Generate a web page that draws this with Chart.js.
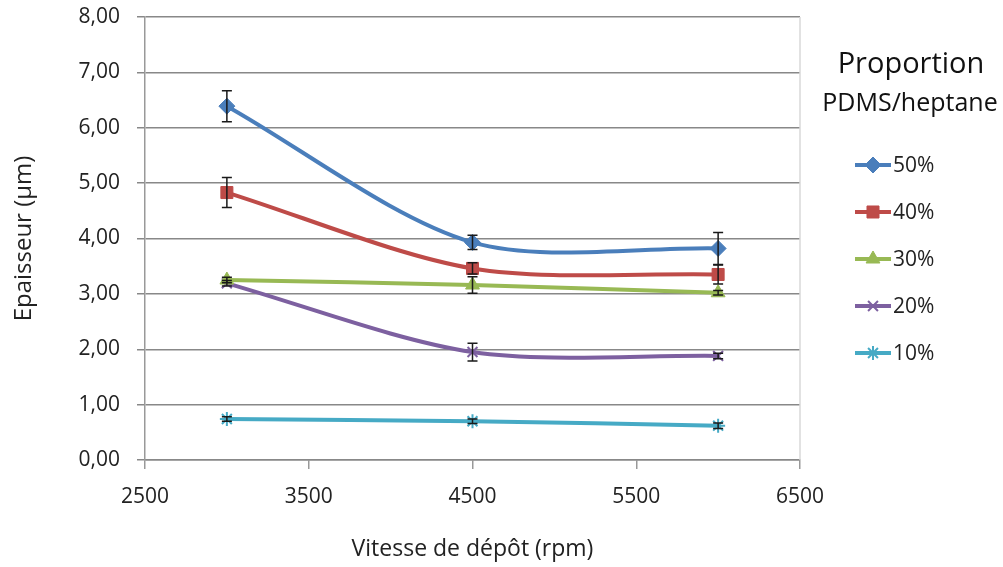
<!DOCTYPE html>
<html>
<head>
<meta charset="utf-8">
<script src="https://cdn.jsdelivr.net/npm/chart.js@4/dist/chart.umd.min.js"></script>
<style>
    html, body { margin: 0; padding: 0; background: #fff; }
    #wrap { width: 1003px; height: 567px; }
</style>
</head>
<body>
<div id="wrap"><canvas id="thickness"></canvas></div>
<script>
const speeds = [3000, 4500, 6000];
const seriesNames = ["50%", "40%", "30%", "20%", "10%"];

const p50 = [6.39, 3.93, 3.82];
const p40 = [4.83, 3.46, 3.35];
const p30 = [3.25, 3.16, 3.02];
const p20 = [3.19, 1.95, 1.88];
const p10 = [0.74, 0.70, 0.62];

const err50 = [0.28, 0.13, 0.29];
const err40 = [0.27, 0.10, 0.17];
const err30 = [0.05, 0.15, 0.04];
const err20 = [0.05, 0.16, 0.05];
const err10 = [0.04, 0.04, 0.05];

const yTicks = [0, 1, 2, 3, 4, 5, 6, 7, 8];
const xTicks = [2500, 3500, 4500, 5500, 6500];

const colors = ["#4a7ebb", "#be4b48", "#98b954", "#7d60a0", "#46aac5"];
const markers = ["rectRot", "rect", "triangle", "crossRot", "star"];
const markerSizes = [8, 8.5, 8, 7, 7];
const values = [p50, p40, p30, p20, p10];
const errors = [err50, err40, err30, err20, err10];

const FONT = "'Open Sans', sans-serif";

function formatFr(v) {
    return v.toFixed(2).replace(".", ",");
}

function isCross(style) {
    return style === "crossRot" || style === "star";
}

// error bars drawn from the data through the scales
const errorBars = {
    id: "errorBars",
    afterDatasetsDraw(chart) {
        const { ctx, scales } = chart;
        ctx.save();
        ctx.strokeStyle = "#1a1a1a";
        ctx.lineWidth = 1.5;
        chart.data.datasets.forEach((ds) => {
            ds.data.forEach((pt, i) => {
                const e = ds.errors[i];
                const x = scales.x.getPixelForValue(pt.x);
                const yTop = scales.y.getPixelForValue(pt.y + e);
                const yBot = scales.y.getPixelForValue(pt.y - e);
                ctx.beginPath();
                ctx.moveTo(x, yTop);
                ctx.lineTo(x, yBot);
                ctx.moveTo(x - 5, yTop);
                ctx.lineTo(x + 5, yTop);
                ctx.moveTo(x - 5, yBot);
                ctx.lineTo(x + 5, yBot);
                ctx.stroke();
            });
        });
        ctx.restore();
    },
};

// light frame line on the right edge of the plot
const rightEdge = {
    id: "rightEdge",
    beforeDatasetsDraw(chart) {
        const { ctx, chartArea } = chart;
        ctx.save();
        ctx.strokeStyle = "#d9d9d9";
        ctx.lineWidth = 1.5;
        ctx.beginPath();
        ctx.moveTo(chartArea.right, chartArea.top);
        ctx.lineTo(chartArea.right, chartArea.bottom);
        ctx.stroke();
        ctx.restore();
    },
};

// legend in the Excel style: title on two lines, line + marker per series
const sideLegend = {
    id: "sideLegend",
    afterDraw(chart) {
        const ctx = chart.ctx;
        ctx.save();
        ctx.fillStyle = "#111";
        ctx.textAlign = "center";
        ctx.textBaseline = "middle";
        ctx.font = "29px " + FONT;
        ctx.fillText("Proportion", 911, 65);
        ctx.font = "25px " + FONT;
        ctx.fillText("PDMS/heptane", 910, 104);

        ctx.textAlign = "left";
        ctx.font = "21px " + FONT;
        chart.data.datasets.forEach((ds, i) => {
            const y = 165 + i * 47;
            ctx.strokeStyle = ds.borderColor;
            ctx.lineWidth = 4;
            ctx.beginPath();
            ctx.moveTo(855, y);
            ctx.lineTo(891, y);
            ctx.stroke();
            ctx.fillStyle = ds.borderColor;
            ctx.strokeStyle = ds.borderColor;
            ctx.lineWidth = ds.pointBorderWidth;
            Chart.helpers.drawPoint(ctx, {
                pointStyle: ds.pointStyle,
                radius: ds.pointRadius,
                borderWidth: ds.pointBorderWidth,
                rotation: 0,
            }, 873, y);
            ctx.fillStyle = "#222";
            ctx.fillText(ds.label, 893, y + 1);
        });
        ctx.restore();
    },
};

const datasets = seriesNames.map((name, i) => ({
    label: name,
    data: speeds.map((s, j) => ({ x: s, y: values[i][j] })),
    errors: errors[i],
    borderColor: colors[i],
    backgroundColor: colors[i],
    pointBackgroundColor: colors[i],
    pointBorderColor: colors[i],
    pointStyle: markers[i],
    pointRadius: markerSizes[i],
    pointBorderWidth: isCross(markers[i]) ? 2 : 1,
    borderWidth: 4,
    tension: 0.3,
}));

new Chart(document.querySelector("#thickness"), {
    type: "line",
    data: { datasets: datasets },
    options: {
        responsive: true,
        maintainAspectRatio: false,
        animation: false,
        layout: { padding: { top: 0, right: 203, left: 0, bottom: 0 } },
        plugins: {
            legend: { display: false },
            tooltip: { enabled: false },
        },
        scales: {
            x: {
                type: "linear",
                min: 2500,
                max: 6500,
                afterBuildTicks: (scale) => {
                    scale.ticks = xTicks.map((v) => ({ value: v }));
                },
                afterFit: (scale) => {
                    scale.height = 107;
                },
                ticks: {
                    color: "#222",
                    font: { family: FONT, size: 21 },
                    padding: 15,
                    callback: (v) => String(v),
                },
                grid: {
                    color: "rgba(0,0,0,0)",
                    tickColor: "#999",
                    lineWidth: 1.5,
                    drawTicks: true,
                    tickLength: 9,
                },
                border: { color: "#888", width: 1.5 },
                title: {
                    display: true,
                    text: "Vitesse de dépôt (rpm)",
                    color: "#222",
                    font: { family: FONT, size: 23 },
                    padding: { top: 10 },
                },
            },
            y: {
                min: 0,
                max: 8,
                afterBuildTicks: (scale) => {
                    scale.ticks = yTicks.map((v) => ({ value: v }));
                },
                afterFit: (scale) => {
                    scale.width = 145;
                    scale.paddingTop = 17;
                    scale.paddingBottom = 12;
                },
                ticks: {
                    color: "#222",
                    font: { family: FONT, size: 21 },
                    padding: 17,
                    callback: (v) => formatFr(v),
                },
                grid: {
                    color: "#888",
                    lineWidth: 1.5,
                    tickLength: 8,
                },
                border: { color: "#999", width: 1.5 },
                title: {
                    display: true,
                    text: "Epaisseur (µm)",
                    color: "#222",
                    font: { family: FONT, size: 24 },
                    padding: { top: 10, bottom: 0 },
                },
            },
        },
    },
    plugins: [rightEdge, errorBars, sideLegend],
});
</script>
</body>
</html>
